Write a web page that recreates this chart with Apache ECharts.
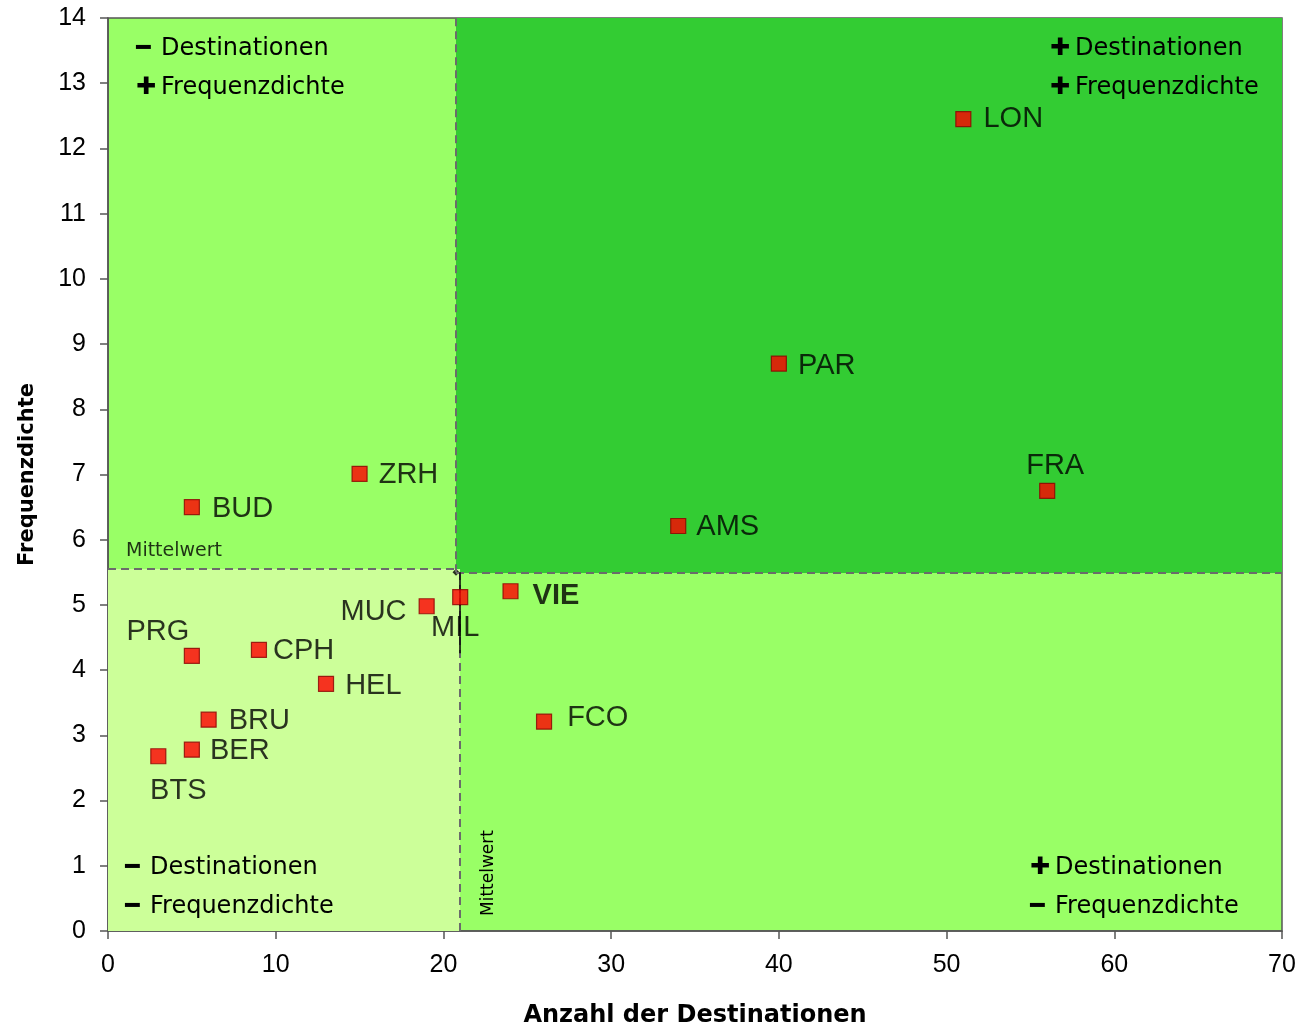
<!DOCTYPE html>
<html>
<head>
<meta charset="utf-8">
<script src="https://cdn.jsdelivr.net/npm/echarts@6/dist/echarts.min.js"></script>
<style>html,body{margin:0;padding:0;background:#fff;}#c{width:1295px;height:1025px;}</style>
</head>
<body>
<div id="c"></div>
<script>
const cities = ['LON','PAR','FRA','AMS','ZRH','BUD','VIE','MIL','MUC','PRG','CPH','HEL','BRU','BER','BTS','FCO'];
const destinations = [51,40,56,34,15,5,24,21,19,5,9,13,6,5,3,26];
const frequency = [12.45,8.7,6.75,6.21,7.01,6.5,5.21,5.12,4.98,4.22,4.31,3.79,3.24,2.78,2.68,3.21];
const xTicks = [0,10,20,30,40,50,60,70];
const yTicks = [0,1,2,3,4,5,6,7,8,9,10,11,12,13,14];
const meanXTop = 20.75, meanXBottom = 20.99;
const meanYLeft = 5.55, meanYRight = 5.49, meanY = 5.5;
const xAxisTitle = 'Anzahl der Destinationen';
const yAxisTitle = 'Frequenzdichte';
const meanText = 'Mittelwert';

// label placement per city (style only)
const labelStyle = {
  LON:{position:'right',distance:12},
  PAR:{position:'right',distance:11,offset:[0,2]},
  FRA:{position:'top',distance:2,offset:[8,0]},
  AMS:{position:'right',distance:10,offset:[0,1]},
  ZRH:{position:'right',distance:11,offset:[0,1]},
  BUD:{position:'right',distance:12,offset:[0,2]},
  VIE:{position:'right',distance:14,offset:[0,5],fontWeight:'bold'},
  MIL:{position:'bottom',distance:8,offset:[-5,0]},
  MUC:{position:'left',distance:12,offset:[0,6]},
  PRG:{position:'inside',offset:[-34,-24]},
  CPH:{position:'right',distance:6,offset:[0,1]},
  HEL:{position:'right',distance:11,offset:[0,2]},
  BRU:{position:'right',distance:12,offset:[0,1]},
  BER:{position:'right',distance:10,offset:[0,1]},
  BTS:{position:'inside',offset:[20,35]},
  FCO:{position:'right',distance:15,offset:[0,-4]}
};

const pts = cities.map((c,i)=>({
  value:[destinations[i],frequency[i]],
  name:c,
  label:Object.assign({show:true,formatter:c,color:'#000',fontSize:29,fontFamily:'Liberation Sans'},labelStyle[c])
}));

const chart = echarts.init(document.getElementById('c'));
function quadText(left, top, s1, t1, s2, t2){
  return {
    type:'text', left:left, top:top, z:50,
    style:{
      text:'{s|'+s1+'}{t|'+t1+'}\n{s|'+s2+'}{t|'+t2+'}',
      fontFamily:'DejaVu Sans', fontSize:24, fill:'#000', lineHeight:39,
      rich:{
        s:{fontWeight:'bold',fontSize:24,fontFamily:'DejaVu Sans',fill:'#000',width:25,lineHeight:39},
        t:{fontFamily:'DejaVu Sans',fontSize:24,fill:'#000',lineHeight:39}
      }
    }
  };
}
const MINUS = '━', PLUS = '✚';
chart.setOption({
  animation:false,
  backgroundColor:'#fff',
  grid:{left:108,right:13,top:18,bottom:94,outerBoundsMode:'none',containLabel:false,show:true,backgroundColor:'#99ff66',borderColor:'#555',borderWidth:1.5},
  xAxis:{
    type:'value',min:0,max:70,interval:10,
    name:xAxisTitle,nameLocation:'middle',nameGap:73,
    nameTextStyle:{fontFamily:'DejaVu Sans',fontWeight:'bold',fontSize:24,color:'#000'},
    axisLine:{show:true,lineStyle:{color:'#555',width:1.5}},
    axisTick:{show:true,length:8,lineStyle:{color:'#555',width:1.5}},
    axisLabel:{margin:22,fontFamily:'Liberation Sans',fontSize:25,color:'#000'},
    splitLine:{show:false}
  },
  yAxis:{
    type:'value',min:0,max:14,interval:1,
    name:yAxisTitle,nameLocation:'middle',nameGap:70,nameRotate:90,
    nameTextStyle:{fontFamily:'DejaVu Sans',fontWeight:'bold',fontSize:21,color:'#000'},
    axisLine:{show:true,lineStyle:{color:'#555',width:1.5}},
    axisTick:{show:true,length:8,lineStyle:{color:'#555',width:1.5}},
    axisLabel:{margin:22,fontFamily:'Liberation Sans',fontSize:25,color:'#000'},
    splitLine:{show:false}
  },
  graphic:[
    quadText(136,29,MINUS,'Destinationen',PLUS,'Frequenzdichte'),
    quadText(1050,29,PLUS,'Destinationen',PLUS,'Frequenzdichte'),
    quadText(125,848,MINUS,'Destinationen',MINUS,'Frequenzdichte'),
    quadText(1030,848,PLUS,'Destinationen',MINUS,'Frequenzdichte'),
    {type:'text',x:489,y:873,rotation:Math.PI/2,z:50,
      style:{text:meanText,fontFamily:'DejaVu Sans',fontSize:17,fill:'#000',align:'center',verticalAlign:'middle'}}
  ],
  series:[
    {
      type:'scatter',name:'areas',data:[],silent:true,z:1,
      markArea:{
        silent:true,
        data:[
          [{coord:[meanXTop,meanYRight],itemStyle:{color:'#33cc33'}},{coord:[70,14]}],
          [{coord:[0,0],itemStyle:{color:'#ccff99'}},{coord:[meanXBottom,meanYLeft]}]
        ]
      },
      markLine:{
        silent:true,symbol:['none','none'],
        label:{show:false},
        lineStyle:{color:'#6b6b6b',type:[8,5],width:2},
        data:[
          [{coord:[0,meanYLeft]},{coord:[meanXTop,meanYLeft]}],
          [{coord:[meanXTop,meanYRight]},{coord:[70,meanYRight]}],
          [{coord:[meanXTop,meanY]},{coord:[meanXTop,14]}],
          [{coord:[meanXBottom,0]},{coord:[meanXBottom,meanY]}],
          [{coord:[meanXBottom,meanY],lineStyle:{color:'#000',type:'solid',width:1.5}},{coord:[meanXBottom,4.26]}]
        ]
      }
    },
    {
      type:'scatter',name:'mean',z:3,
      data:[[meanXTop,meanY]],
      symbol:'diamond',symbolSize:7,itemStyle:{color:'#000'},
      label:{show:false}
    },
    {
      type:'scatter',name:'meanLabels',z:3,
      data:[
        {value:[0,meanYLeft],label:{show:true,position:'insideBottomLeft',formatter:meanText,offset:[13,-3]}}
      ],
      symbolSize:0,
      label:{fontFamily:'DejaVu Sans',fontSize:19,color:'#000'}
    },
    {
      type:'scatter',name:'cities',z:5,
      data:pts,
      symbol:'rect',symbolSize:15,
      itemStyle:{color:'#ff0000',borderColor:'#8b0000',borderWidth:1.2}
    }
  ]
});
</script>
</body>
</html>
